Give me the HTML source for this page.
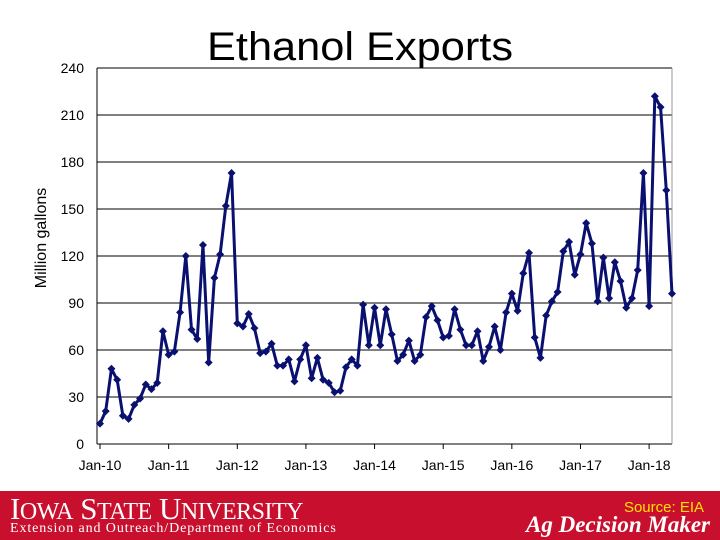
<!DOCTYPE html>
<html><head><meta charset="utf-8"><style>
body{margin:0;width:720px;height:540px;overflow:hidden;background:#fff;font-family:"Liberation Sans",sans-serif;position:relative}
#footer{position:absolute;left:0;top:491px;width:720px;height:49px;background:#c8102e}
</style></head><body>
<svg id="chart" width="720" height="491" style="position:absolute;left:0;top:0">
<text x="360" y="60" text-anchor="middle" font-size="40" textLength="306" lengthAdjust="spacingAndGlyphs" font-family="Liberation Sans, sans-serif">Ethanol Exports</text>
<text transform="translate(46,238) rotate(-90)" text-anchor="middle" font-size="16">Million gallons</text>
<g id="grid"></g><g id="axes"></g><g id="series"></g>
</svg>
<div id="footer">
<div style="position:absolute;left:10px;top:0px;color:#fff;font-family:'Liberation Serif',serif;font-size:31px;letter-spacing:-0.5px;white-space:nowrap">I<span style="font-size:24px">OWA</span> S<span style="font-size:24px">TATE</span> U<span style="font-size:24px">NIVERSITY</span></div>
<div style="position:absolute;left:10px;top:30px;color:#fff;font-family:'Liberation Serif',serif;font-size:14px;letter-spacing:0.9px;white-space:nowrap">Extension and Outreach/Department of Economics</div>
<div style="position:absolute;right:16px;top:8px;color:#ffe000;font-size:15px">Source: EIA</div>
<div style="position:absolute;right:10px;top:21px;color:#fff;font-family:'Liberation Serif',serif;font-style:italic;font-weight:bold;font-size:23px;white-space:nowrap">Ag Decision Maker</div>
</div>
<script>
const yTicks=[0,30,60,90,120,150,180,210,240];
const xLabels=["Jan-10","Jan-11","Jan-12","Jan-13","Jan-14","Jan-15","Jan-16","Jan-17","Jan-18"];
const exports=[13,21,48,41,18,16,25,29,38,35,39,72,
57,59,84,120,73,67,127,52,106,121,152,173,
77,75,83,74,58,59,64,50,50,54,40,54,
63,42,55,41,39,33,34,49,54,50,89,63,
87,63,86,70,53,57,66,53,57,81,88,79,
68,69,86,73,63,63,72,53,62,75,60,84,
96,85,109,122,68,55,82,91,97,123,129,108,
121,141,128,91,119,93,116,104,87,93,111,173,
88,222,215,162,96];
const NS="http://www.w3.org/2000/svg";
const L=97,R=672,T=68,B=444,X0=100,DX=5.72;
const y=v=>B-(v/240)*(B-T);
const x=i=>X0+i*DX;
function mk(t,a,p){const e=document.createElementNS(NS,t);for(const k in a)e.setAttribute(k,a[k]);p.appendChild(e);return e;}
const g=document.getElementById('grid'),ax=document.getElementById('axes'),s=document.getElementById('series');
yTicks.forEach(v=>{
 if(v>0){const l=mk('line',{x1:L,x2:R,y1:y(v),y2:y(v),stroke:'#000','stroke-width':1},g);
 
 }
 const t=mk('text',{x:84,y:y(v)+5,'text-anchor':'end','font-size':14},ax);t.textContent=v;
 
 
});
const yl=mk('line',{x1:L,x2:L,y1:T,y2:B,stroke:'#000'},ax);


const xl=mk('line',{x1:L,x2:R,y1:B,y2:B,stroke:'#000'},ax);


const rb=mk('line',{x1:R,x2:R,y1:T,y2:B,stroke:'#999'},ax);


xLabels.forEach((lab,k)=>{
 const xx=x(k*12);
 mk('line',{x1:xx,x2:xx,y1:B,y2:B+5,stroke:'#000'},ax);
 const t=mk('text',{x:xx,y:470,'text-anchor':'middle','font-size':14},ax);t.textContent=lab;
 
 
});
const pl=mk('polyline',{points:exports.map((v,i)=>x(i)+','+y(v)).join(' '),fill:'none',stroke:'#0a1070','stroke-width':3,'stroke-linejoin':'round'},s);


exports.forEach((v,i)=>{
 const cx=x(i),cy=y(v);
 const m=mk('polygon',{points:`${cx},${cy-4} ${cx+4},${cy} ${cx},${cy+4} ${cx-4},${cy}`,fill:'#0a1070'},s);
 
 
});
</script>
</body></html>
